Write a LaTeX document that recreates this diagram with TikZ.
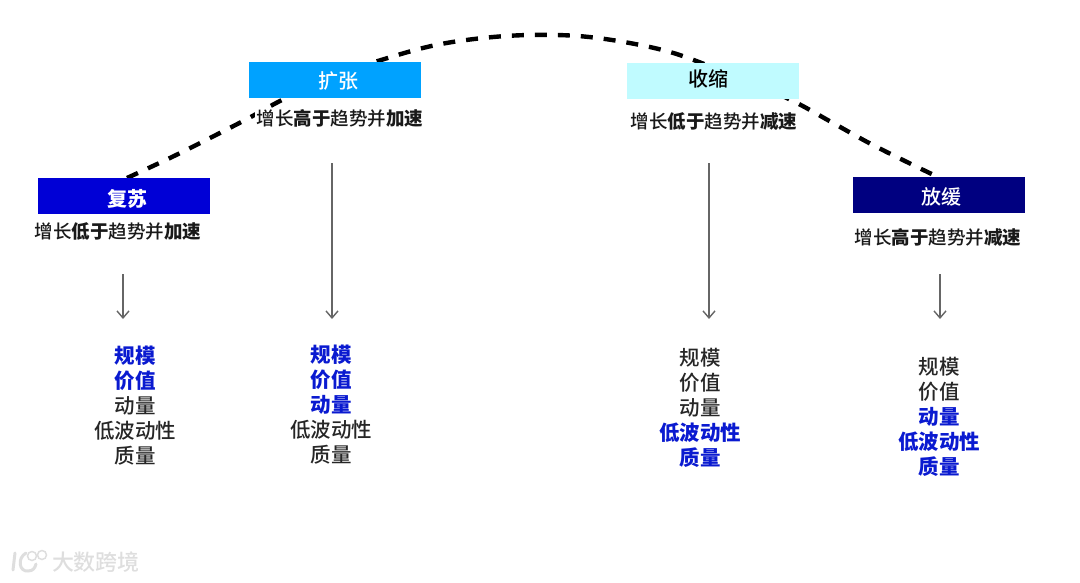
\documentclass[tikz,border=0pt]{standalone}
\usepackage{fontspec}
\setmainfont{Noto Sans CJK SC}
\newfontfamily\medf{Noto Sans CJK SC Medium}
\usetikzlibrary{arrows.meta}
\definecolor{c1}{HTML}{0000D6}
\definecolor{c2}{HTML}{00A2FF}
\definecolor{c3}{HTML}{C0FBFF}
\definecolor{c4}{HTML}{000080}
\definecolor{hl}{HTML}{0A1AD0}
\newcommand{\hb}[1]{{\bfseries\color{hl}#1}}
\newcommand{\mb}[1]{{\bfseries #1}}
\tikzset{
  phase/.style={minimum width=172pt,minimum height=36pt,inner sep=0pt},
  ttl/.style={inner sep=0pt,font=\medf\fontsize{20}{24}\selectfont},
  sub/.style={fill=white,inner xsep=2pt,inner ysep=1pt,font=\medf\fontsize{18.5}{22}\selectfont,text=black!90},
  lst/.style={align=center,inner sep=0pt,font=\medf\fontsize{20.5}{25}\selectfont,text=black!85},
  conn/.style={draw=black!60,line width=1.5pt,-{Straight Barb[length=7pt,width=12pt,line width=1.4pt]}},
  cyc/.style={line width=4.4pt,black,dash pattern=on 12pt off 11pt}
}
\begin{document}
\begin{tikzpicture}[x=1pt,y=-1pt]
\useasboundingbox (0,0) rectangle (1080,582);
\coordinate (c0) at (127,178);
\coordinate (cEnd) at (938,177);
\draw[cyc] plot[smooth,tension=0.6] coordinates {(c0) (172,157) (210,138) (247,119) (286,98) (340,74) (391,57) (436,45) (483,38) (529,35) (578,36) (624,42) (670,52) (712,67) (755,84) (795,102) (833,123) (871,144) (911,164) (cEnd)};
\node[phase,fill=c1,label={[ttl,text=white,xshift=3pt,yshift=-3pt]center:\mb{复苏}}] (a) at (124,196) {};
\node[phase,fill=c2,label={[ttl,text=white,xshift=4pt,yshift=-1pt]center:扩张}] (b) at (334.5,80) {};
\node[phase,fill=c3,label={[ttl,text=black,xshift=-5pt,yshift=2pt]center:收缩}] (c) at (713,81) {};
\node[phase,fill=c4,label={[ttl,text=white,xshift=2pt,yshift=-2pt]center:放缓}] (d) at (939,195) {};
\node[sub] (as) at (118,231) {增长\mb{低于}趋势并\mb{加速}};
\node[sub] (bs) at (340,118) {增长\mb{高于}趋势并\mb{加速}};
\node[sub] (cs) at (714,121) {增长\mb{低于}趋势并\mb{减速}};
\node[sub] (ds) at (938,237) {增长\mb{高于}趋势并\mb{减速}};
\node[lst] (al) at (135,406) {\hb{规模}\\\hb{价值}\\动量\\低波动性\\质量};
\node[lst] (bl) at (331,405) {\hb{规模}\\\hb{价值}\\\hb{动量}\\低波动性\\质量};
\node[lst] (cl) at (700,408) {规模\\价值\\动量\\\hb{低波动性}\\\hb{质量}};
\node[lst] (dl) at (939,417) {规模\\价值\\\hb{动量}\\\hb{低波动性}\\\hb{质量}};
\coordinate (a1) at (123,274); \coordinate (a2) at (123,319);
\coordinate (b1) at (332,163); \coordinate (b2) at (332,319);
\coordinate (c1p) at (709,163); \coordinate (c2p) at (709,319);
\coordinate (d1) at (940,274); \coordinate (d2) at (940,319);
\draw[conn] (a1) -- (a2);
\draw[conn] (b1) -- (b2);
\draw[conn] (c1p) -- (c2p);
\draw[conn] (d1) -- (d2);
\node[text=black!13,font=\medf\fontsize{22}{24}\selectfont,inner sep=0pt] (wm) at (96,562) {大数跨境};
\draw[black!13,line width=3pt,line cap=round] (15,553) -- (13,570);
\draw[black!13,line width=3pt,line cap=round] (26,553) .. controls (17,558) and (19,572) .. (28,571) .. controls (33,571) and (35,568) .. (36,564);
\draw[black!13,line width=1.5pt] (32,556) circle (4.5pt);
\draw[black!13,line width=1.5pt] (42,555) circle (4.5pt);
\end{tikzpicture}
\end{document}
